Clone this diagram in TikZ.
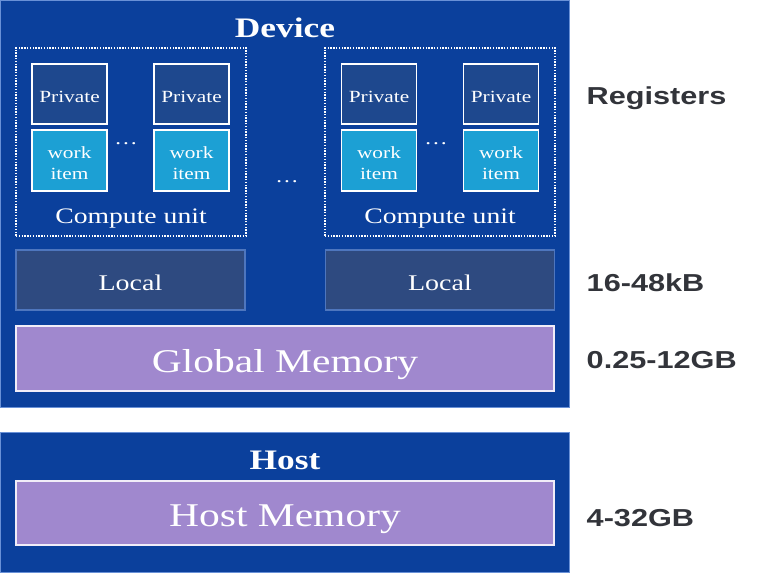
\documentclass[tikz,border=0pt]{standalone}
\usepackage{fontspec}
\setmainfont{Liberation Serif}
\newfontfamily\sizefont{Liberation Sans}
\definecolor{devblue}{RGB}{11,64,156}
\definecolor{devedge}{RGB}{105,145,215}
\definecolor{privblue}{RGB}{30,72,142}
\definecolor{itemcyan}{RGB}{28,160,212}
\definecolor{localblue}{RGB}{46,74,128}
\definecolor{localedge}{RGB}{78,118,190}
\definecolor{memviolet}{RGB}{160,136,206}
\definecolor{sizegray}{RGB}{50,52,58}
\newcommand{\wtxt}[1]{\raisebox{-2.2pt}[\height][\depth]{\scalebox{1.25}[1]{#1}}}
\tikzset{
  panel/.style={draw=devedge, fill=devblue, line width=0.75pt, inner sep=0pt},
  title/.style={text=white, font=\bfseries\fontsize{21.2}{22}\selectfont},
  cubox/.style={draw=white, densely dotted, line width=1.1pt, minimum width=172.5pt, minimum height=141pt, inner sep=0pt},
  cutext/.style={text=white, font=\fontsize{16.6}{18}\selectfont},
  privbox/.style={draw=white, fill=privblue, line width=1.2pt, minimum width=56.25pt, minimum height=45pt, inner sep=0pt, text=white, font=\fontsize{12.8}{13}\selectfont},
  itembox/.style={draw=white, fill=itemcyan, line width=1.2pt, minimum width=56.25pt, minimum height=45.75pt, inner sep=0pt, text=white, align=center, font=\fontsize{12.8}{15.5}\selectfont},
  localbox/.style={draw=localedge, fill=localblue, line width=1pt, minimum width=171.75pt, minimum height=45pt, inner sep=0pt, text=white, font=\fontsize{16.8}{18}\selectfont},
  membox/.style={draw=white!85!memviolet, fill=memviolet, line width=1.2pt, minimum width=403.5pt, inner sep=0pt, text depth=0pt, text=white, font=\fontsize{24.9}{26}\selectfont},
  dots/.style={text=white, font=\fontsize{14}{14}\selectfont},
  sizelabel/.style={anchor=west, text=sizegray, font=\sizefont\bfseries\fontsize{18.4}{20}\selectfont}
}
\begin{document}
\begin{tikzpicture}[x=0.75pt,y=0.75pt,yscale=-1,xscale=1]
        \useasboundingbox (0,0) rectangle (768,572);
        % device
        \node [panel, minimum width=426.75pt, minimum height=305.25pt] (device) at (284.5,203.5) {};
        \node [title] (devtitle) at (285,25) {\wtxt{Device}};
        % compute units
        \node [cubox] (cu1) at (131,142) {};
        \node [cubox] (cu2) at (440,142) {};
        \node [cutext] (cu1txt) at (131,216) {\wtxt{Compute unit}};
        \node [cutext] (cu2txt) at (440,216) {\wtxt{Compute unit}};
        \node [privbox] (priv1) at (69.5,94) {\wtxt{Private}};
        \node [privbox] (priv2) at (191.5,94) {\wtxt{Private}};
        \node [privbox] (priv3) at (379,94) {\wtxt{Private}};
        \node [privbox] (priv4) at (501,94) {\wtxt{Private}};
        \node [itembox] (item1) at (69.5,160.5) {\wtxt{work}\\\wtxt{item}};
        \node [itembox] (item2) at (191.5,160.5) {\wtxt{work}\\\wtxt{item}};
        \node [itembox] (item3) at (379,160.5) {\wtxt{work}\\\wtxt{item}};
        \node [itembox] (item4) at (501,160.5) {\wtxt{work}\\\wtxt{item}};
        \node [dots] (dots1) at (126,141) {\wtxt{\ldots}};
        \node [dots] (dots2) at (436,141) {\wtxt{\ldots}};
        \node [dots] (dots3) at (287,179) {\wtxt{\ldots}};
        % local and global memory
        \node [localbox] (local1) at (130.5,280) {\wtxt{Local}};
        \node [localbox] (local2) at (440,280) {\wtxt{Local}};
        \node [membox, minimum height=48.75pt] (global) at (285,358.5) {\wtxt{Global Memory}};
        % host
        \node [panel, minimum width=426.75pt, minimum height=105pt] (host) at (284.5,502) {};
        \node [title] (hosttitle) at (285,457) {\wtxt{Host}};
        \node [membox, minimum height=48pt] (hostmem) at (285,513) {\wtxt{Host Memory}};
        % sizes
        \node [sizelabel] (regs) at (582,95) {\wtxt{Registers}};
        \node [sizelabel] (localsize) at (582,280) {\wtxt{16-48kB}};
        \node [sizelabel] (globalsize) at (582,357) {\wtxt{0.25-12GB}};
        \node [sizelabel] (hostsize) at (582,515) {\wtxt{4-32GB}};
\end{tikzpicture}
\end{document}
